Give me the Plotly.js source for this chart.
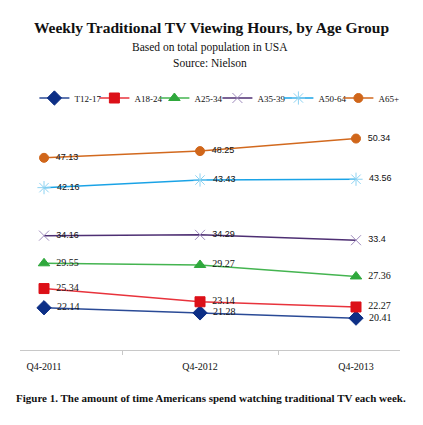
<!DOCTYPE html>
<html>
<head>
<meta charset="utf-8">
<script src="https://cdn.plot.ly/plotly-3.0.1.min.js"></script>
<style>
  html, body { margin: 0; padding: 0; background: #fff; }
  #chart { width: 423px; height: 425px; }
</style>
</head>
<body>
<div id="chart"></div>
<script>
// data ------------------------------------------------------------------------
const quarters = ["Q4-2011", "Q4-2012", "Q4-2013"];
const groups = ["T12-17", "A18-24", "A25-34", "A35-39", "A50-64", "A65+"];

const t12_17 = [22.14, 21.28, 20.41];
const a18_24 = [25.34, 23.14, 22.27];
const a25_34 = [29.55, 29.27, 27.36];
const a35_39 = [34.16, 34.29, 33.4];
const a50_64 = [42.16, 43.43, 43.56];
const a65_up = [47.13, 48.25, 50.34];

// styles ----------------------------------------------------------------------
const serif = "Liberation Serif, Times New Roman, serif";
const sans = "Liberation Sans, Tahoma, sans-serif";

const styles = [
	{ line: "#2a4a96", marker: "#0d2f86", symbol: "diamond", size: 11, font: serif, fs: 10 },
	{ line: "#e8333c", marker: "#dc1018", symbol: "square", size: 10, font: serif, fs: 10 },
	{ line: "#44b450", marker: "#2fa83c", symbol: "triangle-up", size: 10, font: serif, fs: 10 },
	{ line: "#4e2f73", marker: "#a08cbe", symbol: "x-thin-open", size: 10, font: sans, fs: 9 },
	{ line: "#1aa3e6", marker: "#8ed3f2", symbol: "asterisk-open", size: 11, font: sans, fs: 9 },
	{ line: "#d2691e", marker: "#d0661a", symbol: "circle", size: 9, font: sans, fs: 9 },
];

// one legend per series so each entry can sit where the original has it
const legendX = [0.0379, 0.1958, 0.3537, 0.5195, 0.68, 0.8379];

const series = [t12_17, a18_24, a25_34, a35_39, a50_64, a65_up];
const xs = quarters.map((q, i) => i);

const data = series.map((vals, i) => ({
	x: xs,
	y: vals,
	name: groups[i],
	legend: i === 0 ? "legend" : "legend" + (i + 1),
	type: "scatter",
	mode: "lines+markers+text",
	texttemplate: "  %{y}",
	textposition: "middle right",
	textfont: { family: styles[i].font, size: styles[i].fs, color: "#111" },
	line: { color: styles[i].line, width: 1.5 },
	marker: {
		symbol: styles[i].symbol,
		size: styles[i].size,
		color: styles[i].marker,
		line: { color: styles[i].marker, width: 1 },
	},
	cliponaxis: false,
}));

// dummy trace to carry the between-category tick marks
data.push({
	x: [0.5, 1.5],
	y: [null, null],
	xaxis: "x2",
	showlegend: false,
	hoverinfo: "skip",
	type: "scatter",
	mode: "markers",
});

const xr = [-0.154, 2.282];

const layout = {
	width: 423,
	height: 425,
	margin: { l: 20, r: 23, t: 110, b: 75 },
	paper_bgcolor: "#fff",
	plot_bgcolor: "#fff",
	font: { family: serif, color: "#111" },
	title: {
		text: "<b>Weekly Traditional TV Viewing Hours, by Age Group</b>",
		font: { family: serif, size: 15.5, color: "#111" },
		x: 0.5,
		xanchor: "center",
		y: 0.934,
		yanchor: "middle",
	},
	showlegend: true,
	xaxis: {
		range: xr,
		tickvals: xs,
		ticktext: quarters,
		ticks: "",
		showgrid: false,
		zeroline: false,
		showline: true,
		linecolor: "#c8c8c8",
		linewidth: 1,
		tickfont: { family: serif, size: 10, color: "#111" },
		ticklabelstandoff: 7,
		fixedrange: true,
	},
	xaxis2: {
		overlaying: "x",
		anchor: "y",
		side: "bottom",
		range: xr,
		tickvals: [0.5, 1.5],
		showticklabels: false,
		ticks: "outside",
		ticklen: 4,
		tickcolor: "#c8c8c8",
		showgrid: false,
		zeroline: false,
		showline: false,
	},
	yaxis: {
		range: [15.1, 55.1],
		visible: false,
		showgrid: false,
		zeroline: false,
		fixedrange: true,
	},
	annotations: [
		{
			text: "Based on total population in USA",
			xref: "paper", yref: "paper", x: 0.5, y: 1.2625,
			xanchor: "center", yanchor: "middle", showarrow: false,
			font: { family: serif, size: 11.5, color: "#111" },
		},
		{
			text: "Source: Nielson",
			xref: "paper", yref: "paper", x: 0.5, y: 1.196,
			xanchor: "center", yanchor: "middle", showarrow: false,
			font: { family: serif, size: 11.5, color: "#111" },
		},
		{
			text: "<b>Figure 1. The amount of time Americans spend watching traditional TV each week.</b>",
			xref: "paper", yref: "paper", x: -0.016, y: -0.2,
			xanchor: "left", yanchor: "middle", showarrow: false,
			font: { family: serif, size: 11, color: "#111" },
		},
	],
};

legendX.forEach((lx, i) => {
	layout[i === 0 ? "legend" : "legend" + (i + 1)] = {
		orientation: "h",
		x: lx,
		xanchor: "left",
		y: 1.05,
		yanchor: "middle",
		font: { family: serif, size: 9, color: "#111" },
		itemwidth: 30,
		bgcolor: "rgba(0,0,0,0)",
	};
});

Plotly.newPlot("chart", data, layout, { displayModeBar: false, staticPlot: true });
</script>
</body>
</html>
